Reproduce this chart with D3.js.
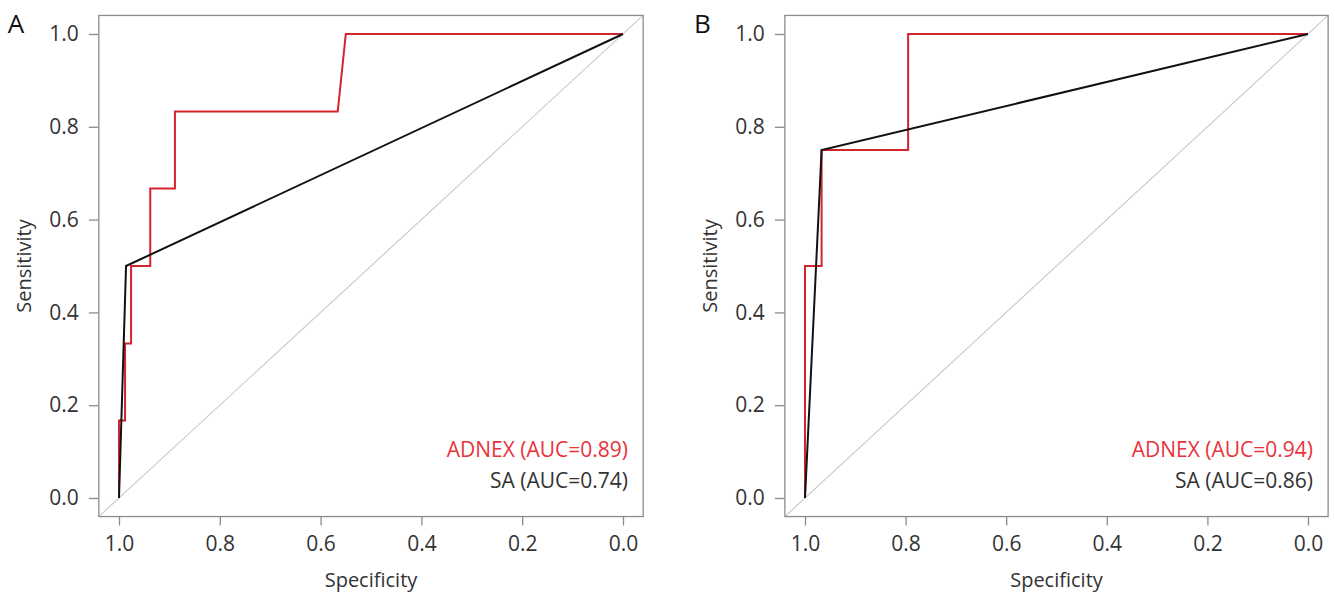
<!DOCTYPE html>
<html>
<head>
<meta charset="utf-8">
<script src="https://cdn.jsdelivr.net/npm/d3@7"></script>
<style>
  body { margin: 0; background: #fff; }
  svg text { font-family: "Open Sans", "Noto Sans", sans-serif; fill: #333; }
</style>
</head>
<body>
<svg id="chart" width="1335" height="592"></svg>
<script>
// ticks shared by both panels
var tickValues = [0, 0.2, 0.4, 0.6, 0.8, 1.0];

// panel A: ADNEX and SA roc points [specificity, sensitivity]
var adnexA = [[1, 0], [1, 0.167], [0.988, 0.167], [0.988, 0.333], [0.976, 0.333], [0.976, 0.5],
    [0.938, 0.5], [0.938, 0.667], [0.889, 0.667], [0.889, 0.833], [0.566, 0.833], [0.55, 1], [0, 1]];
var saA = [[1, 0], [0.986, 0.5], [0, 1]];
var legendA = ['ADNEX (AUC=0.89)', 'SA (AUC=0.74)'];

// panel B
var adnexB = [[1, 0], [1, 0.5], [0.967, 0.5], [0.967, 0.75], [0.795, 0.75], [0.795, 1], [0, 1]];
var saB = [[1, 0], [0.967, 0.75], [0, 1]];
var legendB = ['ADNEX (AUC=0.94)', 'SA (AUC=0.86)'];

var RED = '#d3232c',
    RED_TEXT = '#e8323c',
    GREY = '#8c8c8c';

var svg = d3.select('#chart');

function drawPanel(opts) {
    var x = d3.scaleLinear().domain([1, 0]).range([opts.x0, opts.x1]),
        y = d3.scaleLinear().domain([0, 1]).range([498, 34]),
        // R style 4% extension around the data range
        bx0 = x(1.04), bx1 = x(-0.04), by0 = y(-0.04), by1 = y(1.04);

    var g = svg.append('g');
    var clipId = 'clip-' + opts.label;
    svg.append('defs').append('clipPath').attr('id', clipId)
        .append('rect')
        .attr('x', bx0).attr('y', by1)
        .attr('width', bx1 - bx0).attr('height', by0 - by1);

    // diagonal reference
    g.append('line')
        .attr('clip-path', 'url(#' + clipId + ')')
        .attr('x1', x(1.04)).attr('y1', y(-0.04))
        .attr('x2', x(-0.04)).attr('y2', y(1.04))
        .attr('stroke', '#c8c8c8').attr('stroke-width', 1.1);

    var line = d3.line()
        .x(function(d) { return x(d[0]); })
        .y(function(d) { return y(d[1]); });

    g.append('path').datum(opts.adnex)
        .attr('d', line).attr('fill', 'none')
        .attr('stroke', RED).attr('stroke-width', 2);
    g.append('path').datum(opts.sa)
        .attr('d', line).attr('fill', 'none')
        .attr('stroke', '#111').attr('stroke-width', 2);

    // box
    g.append('rect')
        .attr('x', bx0).attr('y', by1)
        .attr('width', bx1 - bx0).attr('height', by0 - by1)
        .attr('fill', 'none').attr('stroke', GREY).attr('stroke-width', 1.3);

    // axes
    var xAxis = g.append('g')
        .attr('transform', 'translate(0,' + by0 + ')')
        .call(d3.axisBottom(x).tickValues(tickValues).tickFormat(d3.format('.1f'))
            .tickSize(9).tickPadding(11));
    var yAxis = g.append('g')
        .attr('transform', 'translate(' + bx0 + ',0)')
        .call(d3.axisLeft(y).tickValues(tickValues).tickFormat(d3.format('.1f'))
            .tickSize(10).tickPadding(10));
    [xAxis, yAxis].forEach(function(a) {
        a.select('.domain').remove();
        a.selectAll('.tick line').attr('stroke', GREY).attr('stroke-width', 1.3);
        a.selectAll('.tick text').style('font-size', '21px').attr('fill', '#333');
    });

    // titles
    g.append('text')
        .attr('x', (bx0 + bx1) / 2).attr('y', 587)
        .attr('text-anchor', 'middle').style('font-size', '20px')
        .text('Specificity');
    g.append('text')
        .attr('transform', 'translate(' + (bx0 - 68) + ',' + ((by0 + by1) / 2) + ') rotate(-90)')
        .attr('text-anchor', 'middle').style('font-size', '20px')
        .text('Sensitivity');

    // legend
    g.append('text')
        .attr('x', x(0) + 5).attr('y', 457)
        .attr('text-anchor', 'end').style('font-size', '21px')
        .style('fill', RED_TEXT)
        .text(opts.legend[0]);
    g.append('text')
        .attr('x', x(0) + 5).attr('y', 488)
        .attr('text-anchor', 'end').style('font-size', '21px')
        .text(opts.legend[1]);

    // panel letter
    g.append('text')
        .attr('x', bx0 - 91).attr('y', 33)
        .style('font-size', '26px').style('fill', '#111')
        .text(opts.label);
}

drawPanel({ label: 'A', x0: 119, x1: 623, adnex: adnexA, sa: saA, legend: legendA });
drawPanel({ label: 'B', x0: 805, x1: 1308, adnex: adnexB, sa: saB, legend: legendB });
</script>
</body>
</html>
